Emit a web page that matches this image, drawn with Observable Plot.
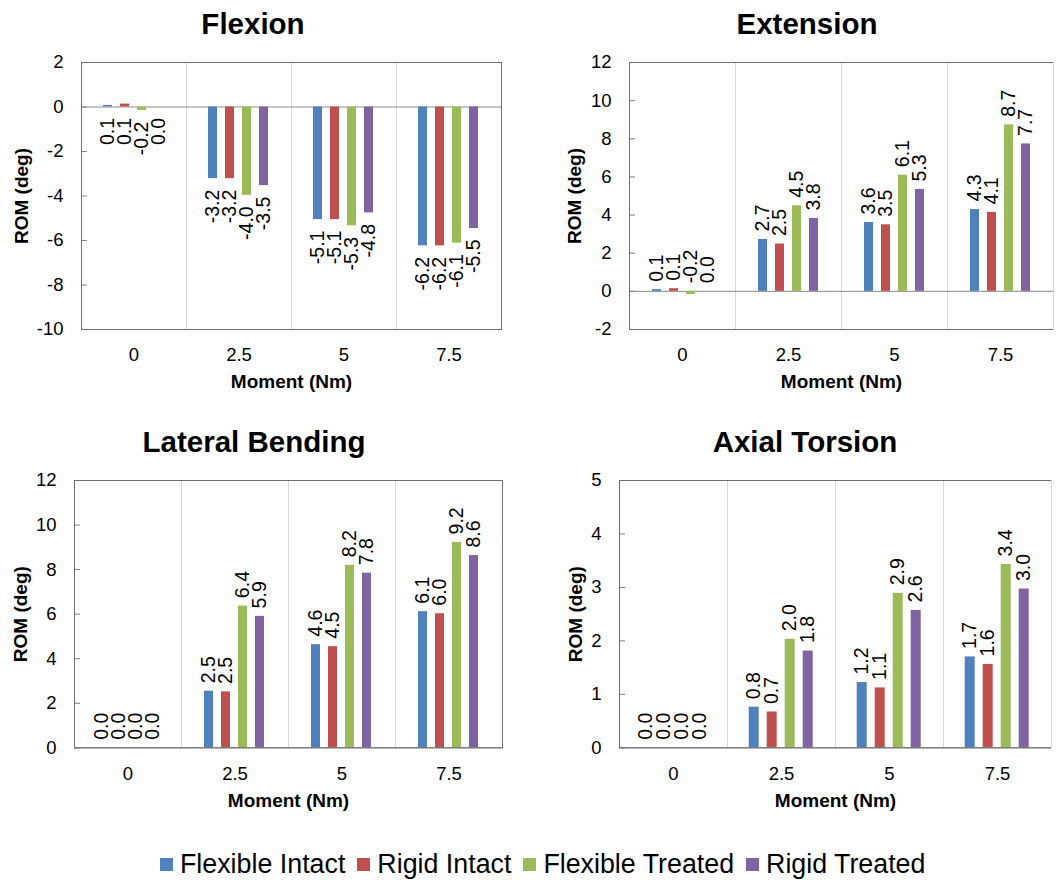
<!DOCTYPE html>
<html><head><meta charset="utf-8">
<script src="https://cdn.jsdelivr.net/npm/d3@7"></script>
<script src="https://cdn.jsdelivr.net/npm/@observablehq/plot@0.6"></script>
<style>
body{margin:0;background:#fff;font-family:"Liberation Sans",Arial,sans-serif;}
#page{position:relative;width:1063px;height:880px;overflow:hidden;background:#fff;}
.title{position:absolute;width:400px;text-align:center;font-weight:bold;font-size:29.5px;line-height:29px;color:#000;}
.chart{position:absolute;}
g[aria-label="y-axis label"], g[aria-label="fx-axis label"]{font-weight:bold;font-size:19px;}
#legend{position:absolute;left:160px;top:851px;display:flex;align-items:center;font-size:26.8px;line-height:26.5px;white-space:nowrap;color:#000;}
.item{display:flex;align-items:center;margin-right:12px;}
.sw{width:13px;height:13px;margin-right:7px;}
</style></head><body><div id="page"></div>
<script>
// ---- data ----
const moments = ["0", "2.5", "5", "7.5"];
const series = ["Flexible Intact", "Rigid Intact", "Flexible Treated", "Rigid Treated"];
const seriesColors = ["#4F81BD", "#C0504D", "#9BBB59", "#8064A2"];
const panelTitles = ["Flexion", "Extension", "Lateral Bending", "Axial Torsion"];
// rows = series, columns = moments
const flexionValues = [
  [0.07, -3.22, -5.06, -6.24],
  [0.13, -3.22, -5.06, -6.24],
  [-0.16, -3.97, -5.34, -6.12],
  [0.0, -3.53, -4.76, -5.46]
];
const extensionValues = [
  [0.09, 2.72, 3.61, 4.29],
  [0.14, 2.48, 3.49, 4.14],
  [-0.16, 4.49, 6.09, 8.73],
  [0.0, 3.82, 5.34, 7.73]
];
const lateralValues = [
  [0.0, 2.54, 4.63, 6.11],
  [0.0, 2.51, 4.54, 6.02],
  [0.0, 6.36, 8.19, 9.22],
  [0.0, 5.90, 7.84, 8.63]
];
const axialValues = [
  [0.0, 0.76, 1.22, 1.70],
  [0.0, 0.67, 1.12, 1.56],
  [0.0, 2.03, 2.89, 3.43],
  [0.0, 1.81, 2.57, 2.97]
];
const flexionTicks = [-10, -8, -6, -4, -2, 0, 2];
const extensionTicks = [-2, 0, 2, 4, 6, 8, 10, 12];
const lateralTicks = [0, 2, 4, 6, 8, 10, 12];
const axialTicks = [0, 1, 2, 3, 4, 5];

// ---- layout ----
const FRAME = "#707070", GRID = "#d9d9d9", ZERO = "#8c8c8c";
const page = document.getElementById("page");

function makePanel(title, values, ticks, cfg) {
  const data = [];
  series.forEach((s, i) => moments.forEach((m, j) => data.push({series: s, moment: m, value: values[i][j]})));
  const marks = [
    Plot.frame({stroke: GRID}),
    Plot.ruleY([0], {stroke: ZERO}),
    Plot.barY(data, {fx: "moment", x: "series", y: "value", fill: "series"}),
    Plot.text(data, {
      fx: "moment", x: "series",
      y: d => cfg.below ? Math.min(d.value, 0) : Math.max(d.value, 0),
      text: d => d.value.toFixed(1),
      rotate: -90,
      textAnchor: cfg.below ? "end" : "start",
      dy: cfg.below ? 11 : -8,
      fontSize: 19.5, fill: "#000"
    }),
    Plot.axisY({anchor: "left", ticks, tickFormat: d => String(d), tickSize: -6, tickPadding: 24,
      stroke: "#808080", fill: "#000", fontSize: 18.5,
      label: "ROM (deg)", labelAnchor: "center", labelOffset: cfg.yLabelOffset, labelArrow: "none"}),
    Plot.axisFx({anchor: "bottom", tickSize: 0, tickPadding: cfg.fxPad, fontSize: 18.5, fill: "#000",
      label: "Moment (Nm)", labelAnchor: "center", labelOffset: cfg.fxLabelOffset, labelArrow: "none"}),
    Plot.ruleY([ticks[0], ticks[ticks.length - 1]], {stroke: FRAME}),
    Plot.frame({anchor: "left", facetAnchor: "left", stroke: FRAME})
  ];
  if (cfg.rightBorder) marks.push(Plot.frame({anchor: "right", facetAnchor: "right", stroke: FRAME}));
  const svg = Plot.plot({
    width: cfg.width, height: 400,
    marginLeft: cfg.ml, marginRight: cfg.mr, marginTop: cfg.mt, marginBottom: 400 - cfg.mt - cfg.ph,
    style: {fontFamily: "'Liberation Sans', Arial, sans-serif", fontSize: "18.5px", color: "#000", background: "transparent"},
    fx: {domain: moments, padding: 0},
    x: {domain: series, paddingInner: 0.463, paddingOuter: 1.21, axis: null},
    y: {domain: [ticks[0], ticks[ticks.length - 1]]},
    color: {domain: series, range: seriesColors},
    marks
  });
  const wrap = document.createElement("div");
  wrap.className = "chart";
  wrap.style.left = cfg.left + "px";
  wrap.style.top = cfg.top + "px";
  wrap.appendChild(svg);
  page.appendChild(wrap);
  const t = document.createElement("div");
  t.className = "title";
  t.textContent = title;
  t.style.left = (cfg.titleX - 200) + "px";
  t.style.top = cfg.titleTop + "px";
  page.appendChild(t);
}

makePanel(panelTitles[0], flexionValues, flexionTicks,
  {left: 0, top: 0, width: 531, ml: 80, mr: 29, mt: 62, ph: 267, below: true, rightBorder: true,
   yLabelOffset: 67, fxPad: 18, fxLabelOffset: 58, titleX: 253, titleTop: 9});
makePanel(panelTitles[1], extensionValues, extensionTicks,
  {left: 531, top: 0, width: 532, ml: 97, mr: 9.5, mt: 62, ph: 267, below: false, rightBorder: false,
   yLabelOffset: 62, fxPad: 18, fxLabelOffset: 58, titleX: 807, titleTop: 9});
makePanel(panelTitles[2], lateralValues, lateralTicks,
  {left: 0, top: 420, width: 531, ml: 74, mr: 28.7, mt: 60, ph: 267.3, below: false, rightBorder: true,
   yLabelOffset: 61, fxPad: 19, fxLabelOffset: 59, titleX: 254, titleTop: 427});
makePanel(panelTitles[3], axialValues, axialTicks,
  {left: 531, top: 420, width: 532, ml: 86.3, mr: 10, mt: 60, ph: 267.3, below: false, rightBorder: false,
   yLabelOffset: 51, fxPad: 19, fxLabelOffset: 59, titleX: 805, titleTop: 427});

// legend
const legend = document.createElement("div");
legend.id = "legend";
series.forEach((s, i) => {
  const item = document.createElement("div");
  item.className = "item";
  const sw = document.createElement("div");
  sw.className = "sw";
  sw.style.background = seriesColors[i];
  const tx = document.createElement("span");
  tx.textContent = s;
  item.appendChild(sw);
  item.appendChild(tx);
  legend.appendChild(item);
});
page.appendChild(legend);
</script></body></html>
